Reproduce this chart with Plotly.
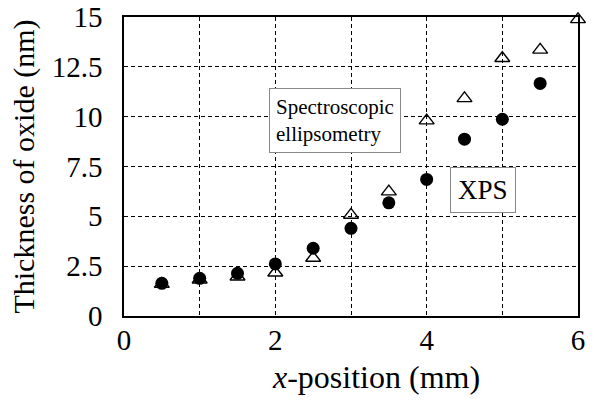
import plotly.graph_objects as go

x_pos = [0.5, 1.0, 1.5, 2.0, 2.5, 3.0, 3.5, 4.0, 4.5, 5.0, 5.5, 6.0]
xps = [1.64, 1.89, 2.14, 2.61, 3.40, 4.40, 5.68, 6.85, 8.87, 9.87, 11.67, None]
ellipsometry = [1.60, 1.82, 1.97, 2.17, 2.91, 5.07, 6.24, 9.80, 10.92, 12.93, 13.35, 14.88]

x_ticks = [0, 1, 2, 3, 4, 5, 6]
x_ticktext = ["0", "", "2", "", "4", "", "6"]
y_ticks = [0, 2.5, 5, 7.5, 10, 12.5, 15]
y_ticktext = ["0", "2.5", "5", "7.5", "10", "12.5", "15"]

FONT = "Times New Roman, Liberation Serif, Times, serif"

fig = go.Figure()
fig.add_trace(go.Scatter(
    x=x_pos, y=ellipsometry, mode="markers", name="Spectroscopic ellipsometry",
    marker=dict(symbol="triangle-up-open", size=13, color="black", line=dict(width=1.4, color="black")),
    cliponaxis=False,
))
fig.add_trace(go.Scatter(
    x=x_pos, y=xps, mode="markers", name="XPS",
    marker=dict(symbol="circle", size=13, color="black"),
    cliponaxis=False,
))

fig.add_annotation(x=2.79, y=9.83, xref="x", yref="y",
                   text="Spectroscopic<br>ellipsometry", showarrow=False,
                   font=dict(family=FONT, size=21, color="black"), align="left",
                   bordercolor="#888888", borderwidth=1, borderpad=6, bgcolor="white")
fig.add_annotation(x=4.74, y=6.30, xref="x", yref="y",
                   text="XPS", showarrow=False,
                   font=dict(family=FONT, size=27, color="black"),
                   bordercolor="#888888", borderwidth=1, borderpad=7, bgcolor="white")
fig.add_annotation(x=0.5, y=0, xref="paper", yref="paper", yshift=-61, xshift=25,
                   yanchor="middle",
                   text="<i>x</i>-position (mm)", showarrow=False,
                   font=dict(family=FONT, size=32, color="black"))

fig.update_layout(
    width=594, height=400,
    margin=dict(l=124, r=16, t=17, b=84, autoexpand=False),
    paper_bgcolor="white", plot_bgcolor="white",
    showlegend=False,
    font=dict(family=FONT, color="black"),
    xaxis=dict(range=[0, 6], tickvals=x_ticks, ticktext=x_ticktext,
               showgrid=True, gridcolor="black", gridwidth=1, griddash="4px,3px",
               showline=True, linecolor="black", linewidth=1.5, mirror=True,
               ticks="", ticklabelstandoff=-3, zeroline=False, automargin=False,
               tickfont=dict(family=FONT, size=29, color="black")),
    yaxis=dict(range=[0, 15], tickvals=y_ticks, ticktext=y_ticktext,
               showgrid=True, gridcolor="black", gridwidth=1, griddash="4px,3px",
               showline=True, linecolor="black", linewidth=1.5, mirror=True,
               ticks="", ticklabelstandoff=14, zeroline=False, automargin=False,
               tickfont=dict(family=FONT, size=29, color="black"),
               title=dict(text="Thickness of oxide (nm)", standoff=8,
                          font=dict(family=FONT, size=30, color="black"))),
)

fig.write_html("out.html")
